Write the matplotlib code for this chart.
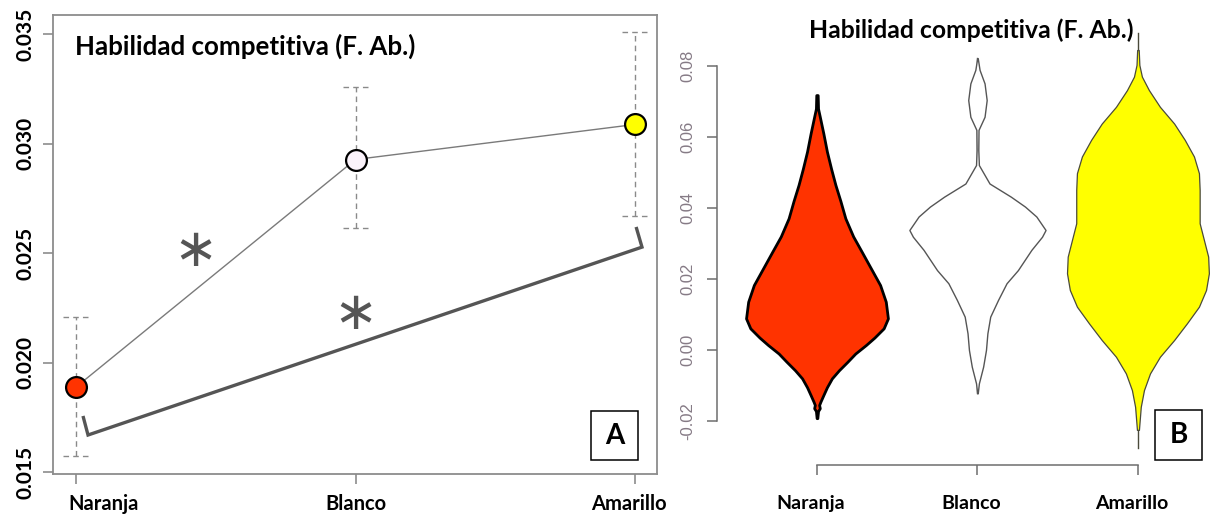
import matplotlib
matplotlib.use("Agg")
import matplotlib.pyplot as plt
from matplotlib.patches import Rectangle
from matplotlib.transforms import ScaledTranslation

W, H = 1210, 515

categories = ["Naranja", "Blanco", "Amarillo"]
fill_colors = ["#FF3300", "#FBF3FB", "#FFFF00"]
title = "Habilidad competitiva (F. Ab.)"

# Panel A: group means with interval limits
means = [0.01888, 0.02927, 0.03087]
err_low = [0.01573, 0.02612, 0.02667]
err_high = [0.02208, 0.03256, 0.03509]
a_yticks = [0.015, 0.020, 0.025, 0.030, 0.035]

# Panel B: violin outlines (value level, relative density)
nar_levels = [0.0718, 0.0680, 0.0657, 0.0610, 0.0559, 0.0510, 0.0465, 0.0420,
              0.0371, 0.0320, 0.0277, 0.0230, 0.0183, 0.0136, 0.0089, 0.0061,
              0.0035, 0.0014, -0.0010, -0.0033, -0.0057, -0.0080, -0.0105,
              -0.0127, -0.0145, -0.0155, -0.0164, -0.0172, -0.0192]
nar_density = [0.01, 0.015, 0.04, 0.09, 0.14, 0.20, 0.26, 0.33, 0.40, 0.51,
               0.63, 0.76, 0.89, 0.97, 1.00, 0.94, 0.81, 0.69, 0.54, 0.43,
               0.31, 0.21, 0.14, 0.09, 0.05, 0.03, 0.04, 0.015, 0.005]
nar_range = [-0.0192, 0.0718]

bla_levels = [0.0822, 0.0789, 0.0751, 0.0704, 0.0657, 0.0620, 0.0563, 0.0521,
              0.0469, 0.0432, 0.0404, 0.0376, 0.0338, 0.0319, 0.0282, 0.0225,
              0.0188, 0.0141, 0.0094, 0.0047, 0.0000, -0.0047, -0.0094, -0.0122]
bla_density = [0.004, 0.03, 0.10, 0.13, 0.10, 0.015, 0.012, 0.02, 0.17, 0.47,
               0.67, 0.83, 0.96, 0.91, 0.76, 0.57, 0.41, 0.29, 0.18, 0.14,
               0.12, 0.08, 0.02, 0.004]
bla_range = [-0.0122, 0.0822]

ama_levels = [0.0845, 0.0803, 0.0770, 0.0732, 0.0685, 0.0638, 0.0592, 0.0545,
              0.0498, 0.0451, 0.0404, 0.0357, 0.0310, 0.0263, 0.0216, 0.0169,
              0.0122, 0.0075, 0.0028, -0.0019, -0.0066, -0.0113, -0.0160, -0.0225]
ama_density = [0.011, 0.02, 0.056, 0.155, 0.31, 0.51, 0.66, 0.79, 0.86, 0.87,
               0.87, 0.87, 0.93, 0.99, 1.00, 0.96, 0.86, 0.69, 0.51, 0.31,
               0.17, 0.085, 0.04, 0.014]
ama_range = [-0.0277, 0.0893]

b_yticks = [-0.02, 0.00, 0.02, 0.04, 0.06, 0.08]

BOLD = dict(family="Lato", fontweight="bold")
AX_GREY = "#8c8c8c"

fig = plt.figure(figsize=(W / 100, H / 100), dpi=100)
fig.patch.set_facecolor("white")


def px_rect(left, top, right, bottom):
    return [left / W, (H - bottom) / H, (right - left) / W, (bottom - top) / H]


def shift_label(label, dx_px):
    label.set_transform(label.get_transform()
                        + ScaledTranslation(dx_px / 100, 0, fig.dpi_scale_trans))


# ---------------- Panel A ----------------
ax = fig.add_axes(px_rect(53, 15, 657, 474))
xs = [1, 2, 3]
ax.set_xlim(0.9177, 3.0787)
ax.set_ylim(0.01491, 0.035868)

dash = (0, (4, 3))
cap = 0.046
for x, lo, hi in zip(xs, err_low, err_high):
    ax.plot([x, x], [lo, hi], ls=dash, color="#8a8a8a", lw=1, zorder=1)
    for yv in (lo, hi):
        ax.plot([x - cap, x + cap], [yv, yv], ls=dash, color="#8a8a8a", lw=1, zorder=1)

ax.plot(xs, means, color="#7a7a7a", lw=1, zorder=2)
for x, m, c in zip(xs, means, fill_colors):
    ax.plot([x], [m], marker="o", ms=15, mfc=c, mec="black", mew=1.6, zorder=3)

# significance bracket between Naranja and Amarillo
ax.plot([1.025, 1.043, 3.025, 3.004], [0.01756, 0.01669, 0.02527, 0.02619],
        color="#555555", lw=2.4, solid_joinstyle="miter", solid_capstyle="butt", zorder=2)
for sx, sy in [(1.426, 0.02509), (2.0, 0.02221)]:
    ax.text(sx, sy, "\u2217", fontsize=38, color="#555555",
            ha="center", va="center", family="DejaVu Sans")

ax.text(0.036, 0.913, title, transform=ax.transAxes, fontsize=18.6, va="baseline",
        ha="left", **BOLD)

for s in ax.spines.values():
    s.set_color(AX_GREY)
    s.set_linewidth(1.3)
ax.set_xticks(xs)
ax.set_xticklabels(categories, fontsize=14.5, **BOLD)
ax.set_yticks(a_yticks)
ax.set_yticklabels([f"{v:.3f}" for v in a_yticks], rotation=90, va="center",
                   fontsize=15, **BOLD)
ax.tick_params(axis="both", direction="out", length=7.5, width=1.2, color=AX_GREY)
ax.tick_params(axis="x", pad=7)
ax.tick_params(axis="y", pad=5)
a_labels = ax.get_xticklabels()
shift_label(a_labels[0], 28)
shift_label(a_labels[2], -6)

# ---------------- Panel B ----------------
bx = fig.add_axes(px_rect(717, 20, 1210, 465))
bx.set_xlim(0.377, 3.449)
bx.set_ylim(-0.0324, 0.09296)
bx.patch.set_alpha(0)

half_width = 0.442
violins = [
    (nar_levels, nar_density, nar_range, fill_colors[0], "black", 2.0),
    (bla_levels, bla_density, bla_range, "white", "#555555", 1.0),
    (ama_levels, ama_density, ama_range, fill_colors[2], "#4a4a3a", 0.9),
]
for pos, (lv, dens, rng, fc, ec, lw) in zip(xs, violins):
    bx.plot([pos, pos], rng, color=ec, lw=1.0, zorder=1, clip_on=False)
    left = [pos - half_width * d for d in dens]
    right = [pos + half_width * d for d in dens]
    bx.fill_betweenx(lv, left, right, facecolor=fc, edgecolor=ec, lw=lw, zorder=2,
                     clip_on=False)

for side in ("top", "right"):
    bx.spines[side].set_visible(False)
for side in ("left", "bottom"):
    bx.spines[side].set_color("#6e6e6e")
    bx.spines[side].set_linewidth(1.1)
bx.spines["left"].set_bounds(-0.02, 0.08)
bx.spines["bottom"].set_bounds(1, 3)
bx.set_xticks(xs)
bx.set_xticklabels(categories, fontsize=14, **BOLD)
bx.set_yticks(b_yticks)
bx.set_yticklabels([f"{v:.2f}" for v in b_yticks], rotation=90, va="center",
                   fontsize=12, color="#857a85", family="Liberation Sans")
bx.tick_params(axis="both", direction="out", length=7.5, width=1.1, color="#6e6e6e")
bx.tick_params(axis="x", pad=14)
bx.tick_params(axis="y", pad=8)
for lab in bx.get_xticklabels():
    shift_label(lab, -6)

fig.text(971.5 / W, 1 - 38 / H, title, ha="center", va="baseline", fontsize=17.8, **BOLD)

# panel letters
for (l, t, r, b), letter in [((591, 411, 638, 460), "A"), ((1155, 410, 1202, 460), "B")]:
    fig.add_artist(Rectangle((l / W, (H - b) / H), (r - l) / W, (b - t) / H,
                             transform=fig.transFigure, facecolor="white",
                             edgecolor="black", lw=1.1, zorder=5))
    fig.text((l + r) / 2 / W, 1 - (t + b) / 2 / H, letter, ha="center", va="center",
             fontsize=20, zorder=6, **BOLD)

fig.savefig("out.png", dpi=100, facecolor="white")
